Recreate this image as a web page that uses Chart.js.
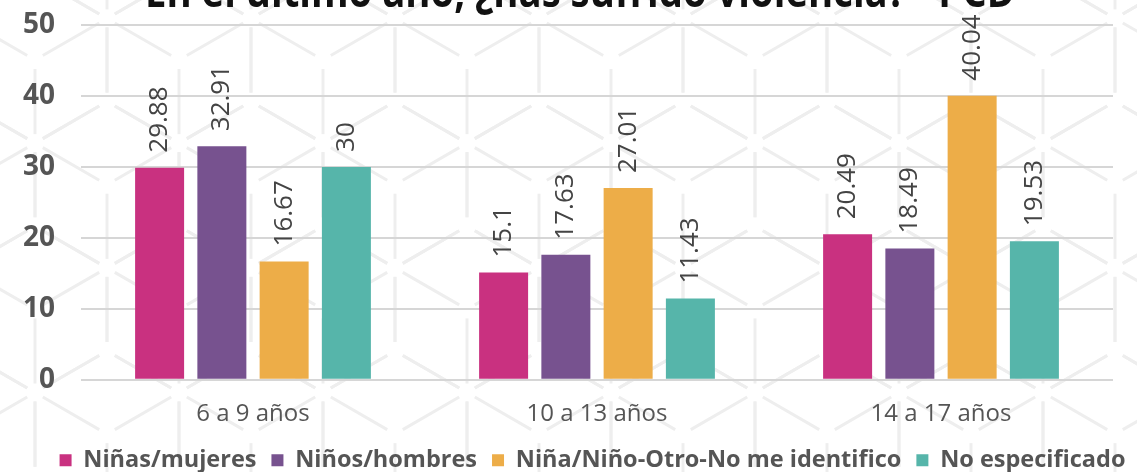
<!DOCTYPE html>
<html>
<head>
<meta charset="utf-8">
<script src="https://cdn.jsdelivr.net/npm/chart.js@4"></script>
<style>
  html, body { margin: 0; padding: 0; background: #fff; }
  #wrap { width: 1137px; height: 472px; position: relative; }
</style>
</head>
<body>
<div id="wrap"><canvas id="chart" width="1137" height="472"></canvas></div>
<script>
const titleText = 'En el último año, ¿has sufrido violencia? - PCD';
const categories = ['6 a 9 años', '10 a 13 años', '14 a 17 años'];
const seriesNames = ['Niñas/mujeres', 'Niños/hombres', 'Niña/Niño-Otro-No me identifico', 'No especificado'];
const ninas = [29.88, 15.1, 20.49];
const ninos = [32.91, 17.63, 18.49];
const otro = [16.67, 27.01, 40.04];
const noEsp = [30, 11.43, 19.53];
const yTicks = [0, 10, 20, 30, 40, 50];
const colors = ['#C93180', '#77528F', '#EDAD48', '#56B5AA'];

const values = [ninas, ninos, otro, noEsp];

// faint tumbling-blocks pattern behind the chart
const hexBackground = {
    id: 'hexBackground',
    beforeDraw(chart) {
        const c = chart.ctx;
        const w = 144, s = w / Math.sqrt(3), gap = 9;
        c.save();
        c.strokeStyle = '#eeeeee';
        c.lineWidth = 3;
        const seg = (x1, y1, x2, y2) => {
            const dx = x2 - x1, dy = y2 - y1, len = Math.hypot(dx, dy);
            const ux = dx / len, uy = dy / len;
            c.beginPath();
            c.moveTo(x1 + ux * gap, y1 + uy * gap);
            c.lineTo(x2 - ux * gap, y2 - uy * gap);
            c.stroke();
        };
        for (let r = -1; r < 5; r++) {
            for (let k = -2; k < 10; k++) {
                const cx = 467 + (k - 3) * w + (r % 2 ? w / 2 : 0);
                const cy = 60 + r * 1.5 * s;
                const pts = [];
                for (let a = 0; a < 6; a++) {
                    const ang = (-90 + a * 60) * Math.PI / 180;
                    pts.push([cx + s * Math.cos(ang), cy + s * Math.sin(ang)]);
                }
                for (let a = 0; a < 6; a++) {
                    const p = pts[a], q = pts[(a + 1) % 6];
                    seg(p[0], p[1], q[0], q[1]);
                }
                // Y: up-left, up-right, down
                seg(cx, cy, pts[5][0], pts[5][1]);
                seg(cx, cy, pts[1][0], pts[1][1]);
                seg(cx, cy, pts[3][0], pts[3][1]);
            }
        }
        c.restore();
    }
};

// title sits mostly above the canvas, only its bottom part shows
const titlePlugin = {
    id: 'cutTitle',
    afterDraw(chart) {
        const c = chart.ctx;
        c.save();
        c.font = 'bold 44px "Open Sans"';
        c.fillStyle = '#111';
        c.textBaseline = 'alphabetic';
        const w = c.measureText(titleText).width;
        const target = 870;
        c.translate(580, 7);
        c.scale(target / w, 1);
        c.textAlign = 'center';
        c.fillText(titleText, 0, 0);
        c.restore();
    }
};

const valueLabels = {
    id: 'valueLabels',
    afterDatasetsDraw(chart) {
        const c = chart.ctx;
        c.save();
        c.font = '26px "Open Sans"';
        c.fillStyle = '#444';
        c.textAlign = 'left';
        c.textBaseline = 'middle';
        chart.data.datasets.forEach((ds, i) => {
            chart.getDatasetMeta(i).data.forEach((bar, j) => {
                c.save();
                c.translate(bar.x, bar.y - 15);
                c.rotate(-Math.PI / 2);
                c.fillText(String(ds.data[j]), 0, 0);
                c.restore();
            });
        });
        c.restore();
    }
};

// the legend in the original sits a bit right of centre
const legendShift = {
    id: 'legendShift',
    afterLayout(chart) {
        chart.legend.left += 36;
        chart.legend.right += 36;
    }
};

const ctx = document.getElementById('chart');
const chart = new Chart(ctx, {
    type: 'bar',
    data: {
        labels: categories,
        datasets: seriesNames.map((name, i) => ({
            label: name,
            data: values[i],
            backgroundColor: colors[i],
            categoryPercentage: 0.724,
            barPercentage: 0.787
        }))
    },
    options: {
        responsive: false,
        animation: false,
        layout: { padding: { top: 25, left: 0, right: 24, bottom: -10 } },
        scales: {
            x: {
                grid: { display: false },
                border: { display: false },
                ticks: { color: '#555', font: { family: 'Open Sans', size: 24 }, padding: 12 },
                afterFit: (axis) => {
                    axis.height -= 7;
                    axis.paddingLeft = 0;
                    axis.paddingRight = 0;
                }
            },
            y: {
                min: 0,
                max: 50,
                afterBuildTicks: (axis) => { axis.ticks = yTicks.map(v => ({ value: v })); },
                grid: { color: '#d6d6d6', lineWidth: 2, drawTicks: false },
                border: { display: false },
                ticks: { color: '#555', font: { family: 'Open Sans', size: 28, weight: 'bold' }, padding: 26 },
                afterFit: (axis) => {
                    axis.width = 81;
                    axis.paddingTop = 0;
                    axis.paddingBottom = 0;
                }
            }
        },
        plugins: {
            legend: {
                position: 'bottom',
                labels: {
                    color: '#555',
                    font: { family: 'Open Sans', size: 23.5, weight: 'bold' },
                    boxWidth: 12,
                    boxHeight: 12,
                    padding: 15
                }
            },
            tooltip: { enabled: false }
        }
    },
    plugins: [hexBackground, valueLabels, titlePlugin, legendShift]
});
</script>
</body>
</html>
